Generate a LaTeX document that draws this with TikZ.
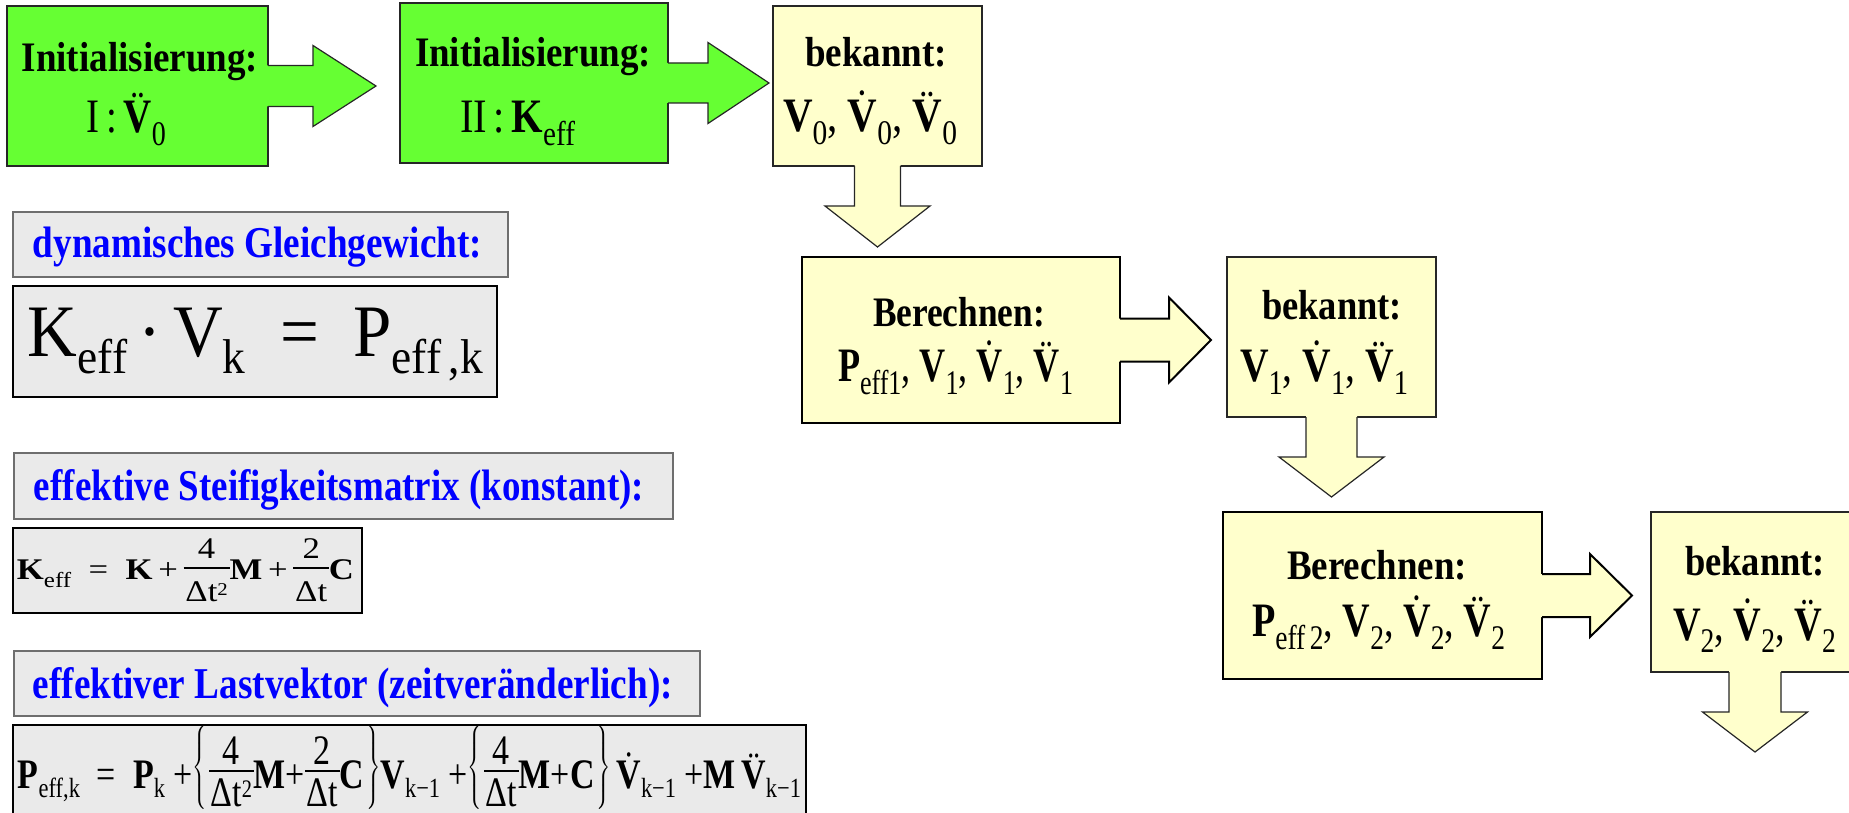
\documentclass[tikz,border=0pt]{standalone}
\usepackage{fontspec}
\setmainfont{Liberation Serif}
\usepackage{graphicx}
\definecolor{grn}{HTML}{66FF33}
\definecolor{ylw}{HTML}{FFFFCC}
\definecolor{gry}{HTML}{EAEAEA}
\definecolor{gbrd}{HTML}{6E6E6E}
\definecolor{titleblue}{HTML}{0000FF}
\newcommand\fitw[2]{\resizebox{#1}{\height}{#2}}
\newcommand\sbs[1]{\raisebox{-.27em}{\scalebox{.72}{#1}}}
\newcommand\sbsb[1]{\raisebox{-.23em}{\scalebox{.66}{#1}}}
\newcommand\supr[1]{\raisebox{.22em}{\scalebox{.6}{#1}}}
\newcommand\dotacc[1]{\ooalign{#1\cr\hidewidth\smash{\raisebox{.19em}{\normalfont\char"02D9}}\hidewidth\cr}}
\newcommand\ddotacc[1]{\ooalign{#1\cr\hidewidth\smash{\raisebox{.19em}{\normalfont\char"00A8}}\hidewidth\cr}}
\newcommand\fr[5]{\raisebox{-#3}{\setlength\arrayrulewidth{0.05em}\renewcommand\arraystretch{0}\begin{tabular}[b]{@{\hspace{0.05em}}c@{\hspace{0.05em}}}\rule[-#1]{0pt}{\dimexpr#1+0.68em\relax}#4\\\hline\rule[-0.04em]{0pt}{\dimexpr#2+0.04em\relax}#5\end{tabular}}}
\newcommand\frP[2]{\fr{0.14em}{0.82em}{0.45em}{#1}{#2}}
\newcommand\frK[2]{\fr{0.28em}{1.1em}{0.75em}{#1}{#2}}
\newcommand\lb{\raisebox{0.25em}{$\left\{\rule[-0.7em]{0pt}{1.9em}\right.$}}
\newcommand\rb{\raisebox{0.25em}{$\left.\rule[-0.7em]{0pt}{1.9em}\right\}$}}
% right block arrow: #1 node, #2 fill colour, #3 line style, #4 half stem, #5 stem length, #6 half head, #7 head length
\newcommand\rblk[7]{%
  \fill[#2] (#1.east) ++(-3,-#4) -- ++({#5+3},0) -- ++(0,{#4-#6}) -- ++(#7,#6) -- ++(-#7,#6) -- ++(0,{#4-#6}) -- ++({-#5-3},0) -- cycle;
  \draw[#3] (#1.east) ++(0,-#4) -- ++(#5,0) -- ++(0,{#4-#6}) -- ++(#7,#6) -- ++(-#7,#6) -- ++(0,{#4-#6}) -- ++(-#5,0);}
% down block arrow
\newcommand\dblk[7]{%
  \fill[#2] (#1.south) ++(-#4,-3) -- ++(0,{#5+3}) -- ++({#4-#6},0) -- ++(#6,#7) -- ++(#6,-#7) -- ++({#4-#6},0) -- ++(0,{-#5-3}) -- cycle;
  \draw[#3] (#1.south) ++(-#4,0) -- ++(0,#5) -- ++({#4-#6},0) -- ++(#6,#7) -- ++(#6,-#7) -- ++({#4-#6},0) -- ++(0,-#5);}
\tikzset{
  box/.style={inner sep=0pt, outer sep=0pt, anchor=center},
  gline/.style={draw=black!85, line width=0.6pt},
  yline/.style={draw=black!85, line width=0.6pt},
  cline/.style={draw=black, line width=1pt},
  gbox/.style={box, fill=grn, gline},
  ybox/.style={box, fill=ylw, yline},
  cbox/.style={box, fill=ylw, cline},
  tbox/.style={box, fill=gry, draw=gbrd, line width=0.8pt},
  ebox/.style={box, fill=gry, draw=black, line width=1.3pt},
  txt/.style={anchor=base, inner sep=0pt, outer sep=0pt},
  lbl/.style={txt, font=\fontsize{21}{25}\selectfont\bfseries},
  vln/.style={txt, font=\fontsize{24}{28}\selectfont},
  ttlline/.style={txt, text=titleblue, font=\fontsize{22}{26}\selectfont\bfseries},
}
\begin{document}
\begin{tikzpicture}[x=0.5pt, y=-0.5pt]
\path[use as bounding box] (0,0) rectangle (1849,813);
\clip (0,0) rectangle (1849,813);
% boxes
\node[gbox, minimum width=130.5pt, minimum height=80pt] (g1) at (137.5,86) {};
\node[gbox, minimum width=134pt, minimum height=80pt] (g2) at (534,83) {};
\node[ybox, minimum width=104.5pt, minimum height=80pt] (y1) at (877.5,86) {};
\node[cbox, minimum width=159pt, minimum height=83pt] (b1) at (961,340) {};
\node[ybox, minimum width=104.5pt, minimum height=80pt] (y2) at (1331.5,337) {};
\node[cbox, minimum width=159.5pt, minimum height=83.5pt] (b2) at (1382.5,595.5) {};
\node[ybox, minimum width=104pt, minimum height=80pt] (y3) at (1755,592) {};
\node[tbox, minimum width=247.5pt, minimum height=32.5pt] (t1) at (260.5,244.5) {};
\node[ebox, minimum width=242pt, minimum height=55.5pt] (e1) at (255,341.5) {};
\node[tbox, minimum width=329.5pt, minimum height=33pt] (t2) at (343.5,486) {};
\node[ebox, minimum width=174.5pt, minimum height=42.5pt] (e2) at (187.5,570.5) {};
\node[tbox, minimum width=343pt, minimum height=32.5pt] (t3) at (357,683.5) {};
\node[ebox, minimum width=396.5pt, minimum height=57.5pt] (e3) at (409.5,782.5) {};
% block arrows
\rblk{g1}{grn}{gline}{20.5}{45}{40.5}{63}
\rblk{g2}{grn}{gline}{20}{40}{40.5}{61}
\dblk{y1}{ylw}{yline}{23}{40}{52.5}{41}
\rblk{b1}{ylw}{cline}{21.5}{49}{42.5}{42}
\dblk{y2}{ylw}{yline}{25.5}{40}{52.5}{40}
\rblk{b2}{ylw}{cline}{21.5}{48}{41.5}{42}
\dblk{y3}{ylw}{yline}{26}{40}{52.5}{40}
% texts
\node[lbl] (g1t) at (140,71.7) {\fitw{118.3pt}{Initialisierung:}};
\node[vln] (g1v) at (126.5,132.7) {\fitw{39.5pt}{I\,:\,\ddotacc{\textbf{V}}\sbs{0}}};
\node[lbl] (g2t) at (533,67) {\fitw{118pt}{Initialisierung:}};
\node[vln] (g2v) at (517.5,132.7) {\fitw{57.5pt}{II\,:\,\textbf{K}\sbs{eff}}};
\node[lbl] (y1t) at (876,66.7) {\fitw{71pt}{bekannt:}};
\node[vln] (y1v) at (870,131.7) {\fitw{87pt}{\textbf{V}\sbs{0}, \dotacc{\textbf{V}}\sbs{0}, \ddotacc{\textbf{V}}\sbs{0}}};
\node[lbl] (b1t) at (959,326.7) {\fitw{86pt}{Berechnen:}};
\node[vln] (b1v) at (955.5,381.7) {\fitw{117.5pt}{\textbf{P}\sbs{eff1}, \textbf{V}\sbs{1}, \dotacc{\textbf{V}}\sbs{1}, \ddotacc{\textbf{V}}\sbs{1}}};
\node[lbl] (y2t) at (1332,320) {\fitw{70pt}{bekannt:}};
\node[vln] (y2v) at (1324,381.7) {\fitw{84pt}{\textbf{V}\sbs{1}, \dotacc{\textbf{V}}\sbs{1}, \ddotacc{\textbf{V}}\sbs{1}}};
\node[lbl] (b2t) at (1377,579) {\fitw{90pt}{Berechnen:}};
\node[vln] (b2v) at (1378.5,636.7) {\fitw{126.5pt}{\textbf{P}\sbs{eff\,2}, \textbf{V}\sbs{2}, \dotacc{\textbf{V}}\sbs{2}, \ddotacc{\textbf{V}}\sbs{2}}};
\node[lbl] (y3t) at (1755,575) {\fitw{70pt}{bekannt:}};
\node[vln] (y3v) at (1754.5,640) {\fitw{81.5pt}{\textbf{V}\sbs{2}, \dotacc{\textbf{V}}\sbs{2}, \ddotacc{\textbf{V}}\sbs{2}}};
% titles
\node[ttlline] (t1t) at (257.5,257.3) {\fitw{224.5pt}{dynamisches Gleichgewicht:}};
\node[ttlline] (t2t) at (339,500) {\fitw{305pt}{effektive Steifigkeitsmatrix (konstant):}};
\node[ttlline] (t3t) at (352.75,698) {\fitw{320pt}{effektiver Lastvektor (zeitveränderlich):}};
% formulas
\node[txt, font=\fontsize{37}{44}\selectfont] (e1t) at (255.5,356.7) {\fitw{227.5pt}{K\sbsb{eff}\,·\,V\sbsb{k}\enspace=\enspace P\sbsb{eff\,,k}}};
\node[txt, font=\fontsize{15}{18}\selectfont] (e2t) at (185.5,579.3) {\fitw{168.5pt}{\textbf{K}\sbs{eff}\ \ =\ \ \textbf{K}\,+\,\frK{4}{Δt\supr{2}}\textbf{M}\,+\,\frK{2}{Δt}\textbf{C}}};
\node[txt, font=\fontsize{21}{25}\selectfont] (e3t) at (409.5,788) {\fitw{391.5pt}{\textbf{P}\sbsb{eff,k}\ \ =\ \ \textbf{P}\sbsb{k}\ +\lb\frP{4}{Δt\supr{2}}\textbf{M}+\frP{2}{Δt}\textbf{C}\rb\textbf{V}\sbsb{k−1}\ +\lb\frP{4}{Δt}\textbf{M}+\textbf{C}\rb\,\dotacc{\textbf{V}}\sbsb{k−1}\ +\textbf{M}\,\ddotacc{\textbf{V}}\sbsb{k−1}}};
\end{tikzpicture}
\end{document}
